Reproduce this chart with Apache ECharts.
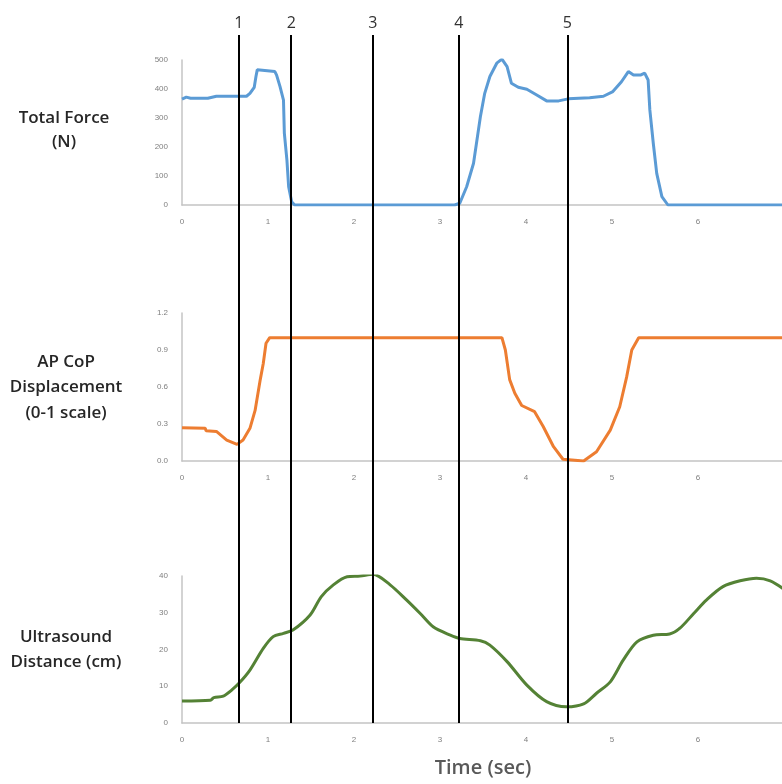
<!DOCTYPE html>
<html>
<head>
<meta charset="utf-8">
<script src="https://cdn.jsdelivr.net/npm/echarts@6/dist/echarts.min.js"></script>
<style>
  html, body { margin: 0; padding: 0; background: #fff; }
  #chart { width: 782px; height: 784px; }
</style>
</head>
<body>
<div id="chart"></div>
<script>
// total force (N)
var forceT = [0, 0.05, 0.1, 0.3, 0.4, 0.75, 0.79, 0.84, 0.86, 0.875, 1.08, 1.10, 1.14, 1.18, 1.19, 1.22, 1.24, 1.275, 1.31,
  3.17, 3.23, 3.31, 3.39, 3.47, 3.52, 3.58, 3.66, 3.72, 3.78, 3.83, 3.91, 4.01, 4.12, 4.24, 4.38, 4.49, 4.74, 4.90, 5.01,
  5.11, 5.19, 5.25, 5.33, 5.38, 5.42, 5.44, 5.48, 5.52, 5.58, 5.65, 7];
var forceV = [365, 372, 368, 368, 375, 375, 385, 406, 443, 466, 460, 448, 408, 362, 248, 155, 63, 11, 0,
  0, 6, 63, 144, 305, 385, 443, 489, 503, 477, 420, 406, 399, 380, 359, 359, 366, 370, 375, 391,
  425, 460, 448, 448, 455, 431, 328, 213, 109, 29, 0, 0];

// AP CoP displacement (0-1)
var copT = [0, 0.27, 0.28, 0.40, 0.52, 0.64, 0.71, 0.79, 0.85, 0.91, 0.945, 0.977, 1.02, 3.72, 3.76,
  3.81, 3.87, 3.95, 4.10, 4.20, 4.32, 4.43, 4.67, 4.82, 4.98, 5.09, 5.17, 5.23, 5.31, 7];
var copV = [0.27, 0.265, 0.245, 0.24, 0.17, 0.135, 0.17, 0.265, 0.41, 0.66, 0.79, 0.955, 1.0, 1.0, 0.90,
  0.66, 0.55, 0.45, 0.40, 0.28, 0.116, 0.014, 0.0, 0.075, 0.25, 0.44, 0.68, 0.90, 1.0, 1.0];

// ultrasound distance (cm)
var usT = [0, 0.33, 0.37, 0.48, 0.58, 0.67, 0.79, 0.945, 1.06, 1.18, 1.29, 1.49, 1.62, 1.76, 1.92,
  2.07, 2.22, 2.42, 2.61, 2.77, 2.92, 3.12, 3.23, 3.47, 3.58, 3.78, 4.01, 4.24, 4.47, 4.67,
  4.82, 4.98, 5.13, 5.29, 5.48, 5.67, 5.79, 5.95, 6.10, 6.29, 6.49, 6.68, 6.84, 7];
var usV = [6.0, 6.2, 6.9, 7.3, 9.0, 11, 14.4, 20.3, 23.5, 24.4, 25.3, 29.4, 34.4, 37.6, 39.8,
  40.0, 40.5, 37.6, 33.5, 29.8, 26.2, 23.9, 23.0, 22.4, 21.2, 16.7, 10.3, 5.8, 4.4, 5.2,
  8.1, 11.2, 17.1, 22.1, 23.9, 24.2, 25.8, 29.8, 33.5, 37.1, 38.7, 39.4, 38.7, 36.4];

// event markers
var markerNames = ['1', '2', '3', '4', '5'];
var markerTimes = [0.663, 1.267, 2.22, 3.22, 4.48];

var panelTitles = ['Total Force\n(N)', 'AP CoP\nDisplacement\n(0-1 scale)', 'Ultrasound\nDistance (cm)'];

function pairs(t, v) {
  var out = [];
  for (var i = 0; i < t.length; i++) out.push([t[i], v[i]]);
  return out;
}

var myChart = echarts.init(document.getElementById('chart'));

var labelStyle = { color: '#7f7f7f', fontSize: 8, fontFamily: 'Liberation Sans' };
var axisGray = '#c4c4c4';

function xAx(idx, extra) {
  var ax = {
    type: 'value', gridIndex: idx, min: 0, max: 7, interval: 1,
    axisLine: { show: true, onZero: false, lineStyle: { color: axisGray, width: 1.5 } },
    axisTick: { show: false },
    splitLine: { show: false },
    axisLabel: Object.assign({ margin: 13 }, labelStyle)
  };
  return Object.assign(ax, extra || {});
}
function yAx(idx, max, interval, fmt) {
  return {
    type: 'value', gridIndex: idx, min: 0, max: max, interval: interval,
    axisLine: { show: true, lineStyle: { color: axisGray, width: 1.5 } },
    axisTick: { show: false },
    splitLine: { show: false },
    axisLabel: Object.assign({ margin: 14, formatter: fmt }, labelStyle)
  };
}

var markData = [];
for (var i = 0; i < markerTimes.length; i++) {
  markData.push({ name: markerNames[i], xAxis: markerTimes[i] });
}

var titleFont = '600 17px "Open Sans"';

var option = {
  animation: false,
  backgroundColor: '#fff',
  grid: [
    { left: 182, width: 602, top: 60, height: 145, outerBoundsMode: 'none' },
    { left: 182, width: 602, top: 313, height: 148, outerBoundsMode: 'none' },
    { left: 182, width: 602, top: 576, height: 147, outerBoundsMode: 'none' },
    { left: 182, width: 602, top: 35, height: 688, outerBoundsMode: 'none' }
  ],
  xAxis: [
    xAx(0),
    xAx(1),
    xAx(2, {
      name: 'Time (sec)', nameLocation: 'middle', nameGap: 35,
      nameTextStyle: { color: '#595959', fontSize: 20, fontWeight: 600, fontFamily: 'Open Sans' }
    }),
    { type: 'value', gridIndex: 3, min: 0, max: 7, show: false }
  ],
  yAxis: [
    yAx(0, 500, 100),
    yAx(1, 1.2, 0.3, function (v) { return v.toFixed(1); }),
    yAx(2, 40, 10),
    { type: 'value', gridIndex: 3, min: 0, max: 1, show: false }
  ],
  graphic: [
    { type: 'text', x: 64, y: 106, style: { text: panelTitles[0], align: 'center', lineHeight: 24, fill: '#262626', font: titleFont } },
    { type: 'text', x: 66, y: 349, style: { text: panelTitles[1], align: 'center', lineHeight: 25.5, fill: '#262626', font: titleFont } },
    { type: 'text', x: 66, y: 624, style: { text: panelTitles[2], align: 'center', lineHeight: 25.5, fill: '#262626', font: titleFont } }
  ],
  series: [
    {
      type: 'line', xAxisIndex: 0, yAxisIndex: 0, data: pairs(forceT, forceV),
      showSymbol: false, lineStyle: { color: '#5b9bd5', width: 3 }, itemStyle: { color: '#5b9bd5' }
    },
    {
      type: 'line', xAxisIndex: 1, yAxisIndex: 1, data: pairs(copT, copV),
      showSymbol: false, lineStyle: { color: '#ed7d31', width: 3 }, itemStyle: { color: '#ed7d31' }
    },
    {
      type: 'line', xAxisIndex: 2, yAxisIndex: 2, data: pairs(usT, usV), smooth: 0.3,
      showSymbol: false, lineStyle: { color: '#548235', width: 3 }, itemStyle: { color: '#548235' }
    },
    {
      type: 'line', xAxisIndex: 3, yAxisIndex: 3, data: [], z: 10,
      markLine: {
        silent: true, symbol: 'none', animation: false,
        lineStyle: { color: '#000', width: 2, type: 'solid' },
        label: { show: true, position: 'end', formatter: '{b}', color: '#333', fontSize: 16, fontFamily: 'Open Sans', distance: 4 },
        data: markData
      }
    }
  ]
};

myChart.setOption(option);
</script>
</body>
</html>
